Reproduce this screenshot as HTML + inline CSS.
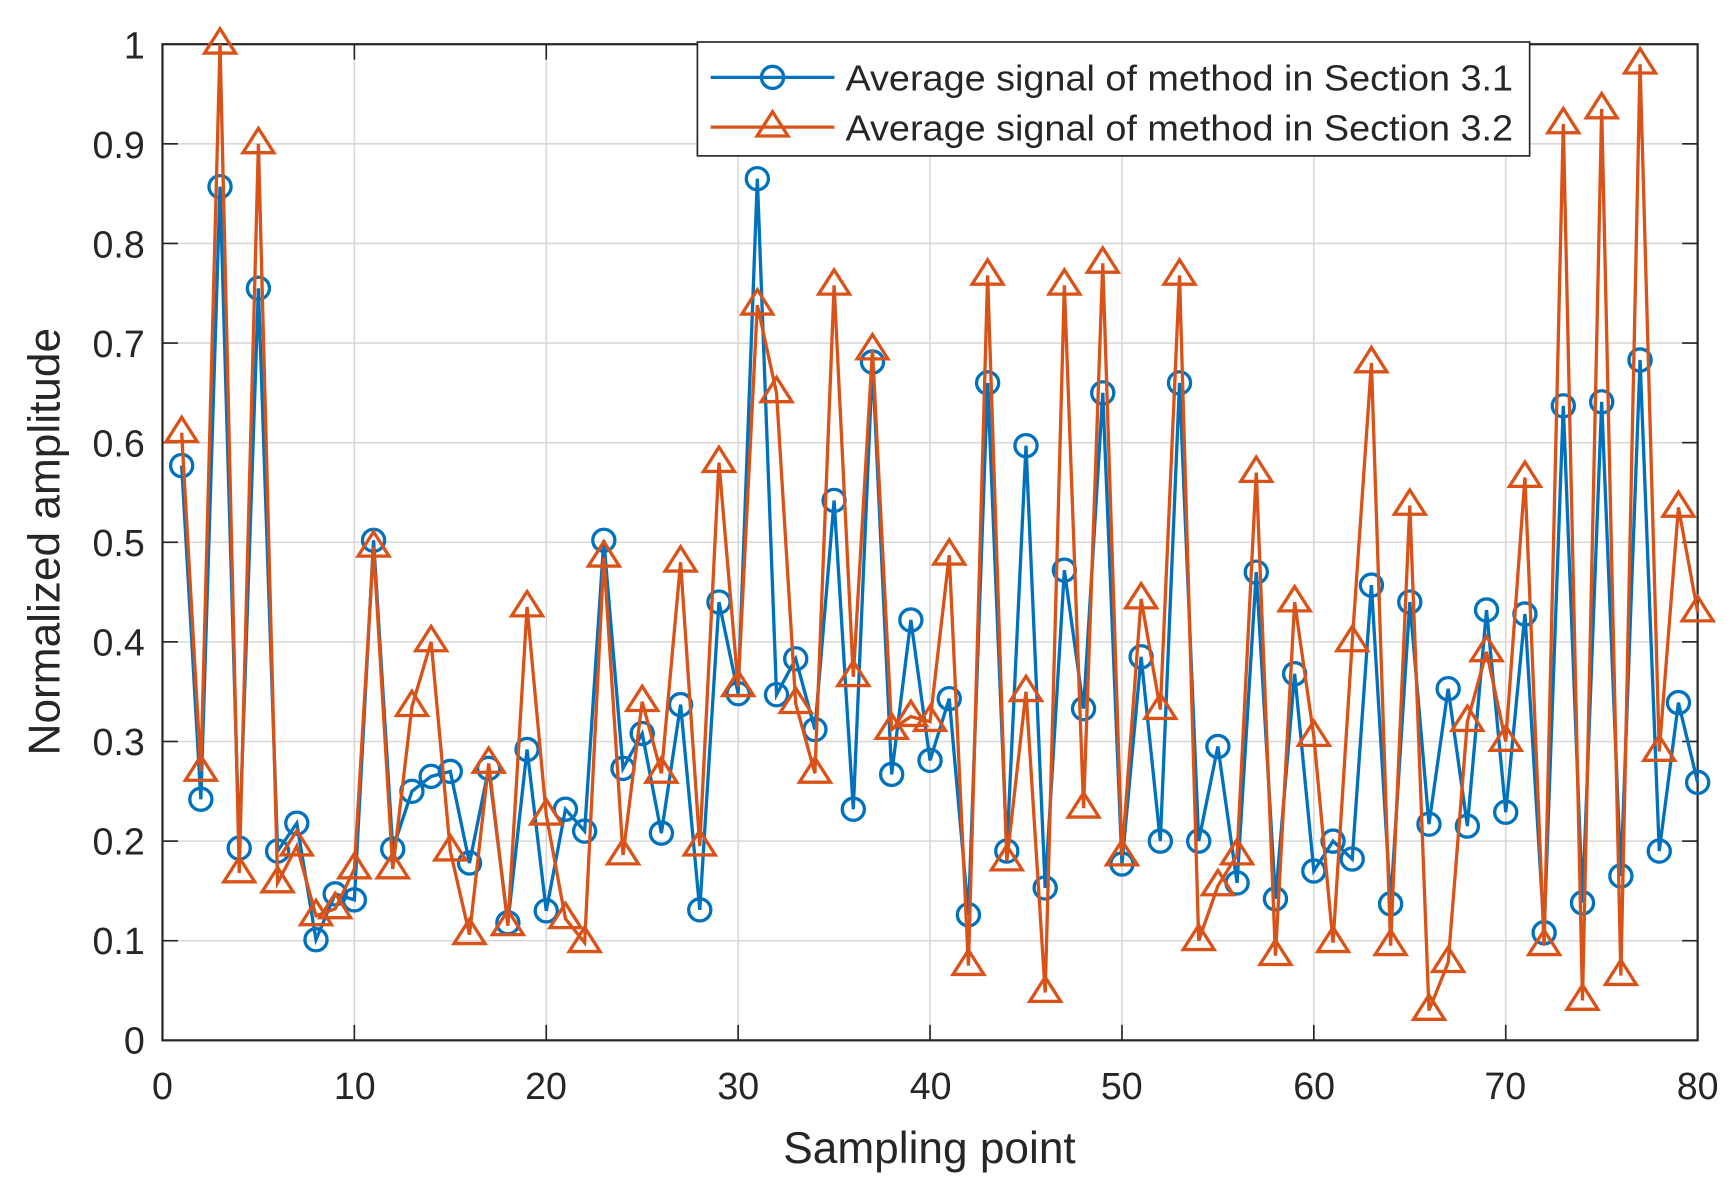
<!DOCTYPE html>
<html><head><meta charset="utf-8"><style>
html,body{margin:0;padding:0;background:#fff;}
svg{display:block;}
text{font-family:"Liberation Sans",sans-serif;fill:#262626;}
</style></head><body>
<svg id="s" width="1733" height="1194" viewBox="0 0 1568 1080" preserveAspectRatio="none" xmlns="http://www.w3.org/2000/svg">
<rect x="0" y="0" width="1568" height="1080" fill="#fff"/>
<g id="grid" stroke="#d8d8d8" stroke-width="1.4"></g>
<g id="ticks" stroke="#262626" stroke-width="1.5"></g>
<rect x="147" y="40" width="1389" height="901" fill="none" stroke="#262626" stroke-width="2"/>
<g id="series"></g>
<g font-size="34" text-anchor="end">
<text x="131" y="953">0</text><text x="131" y="863">0.1</text><text x="131" y="773">0.2</text><text x="131" y="683">0.3</text><text x="131" y="593">0.4</text><text x="131" y="503">0.5</text><text x="131" y="413">0.6</text><text x="131" y="323">0.7</text><text x="131" y="233">0.8</text><text x="131" y="143">0.9</text><text x="131" y="53">1</text>
</g>
<g font-size="34" text-anchor="middle">
<text x="147" y="994">0</text><text x="321" y="994">10</text><text x="494" y="994">20</text><text x="668" y="994">30</text><text x="842" y="994">40</text><text x="1015" y="994">50</text><text x="1189" y="994">60</text><text x="1362" y="994">70</text><text x="1536" y="994">80</text>
</g>
<text x="841" y="1052" font-size="40" text-anchor="middle">Sampling point</text>
<text x="0" y="0" font-size="40" text-anchor="middle" transform="translate(54,490) rotate(-90)">Normalized amplitude</text>
<rect x="631" y="38" width="753" height="103" fill="#fff" stroke="#262626" stroke-width="1.5"/>
<line x1="643" y1="70" x2="755" y2="70" stroke="#0072BD" stroke-width="3"/>
<circle cx="699" cy="70" r="10" fill="none" stroke="#0072BD" stroke-width="3"/>
<line x1="643" y1="115" x2="755" y2="115" stroke="#D95319" stroke-width="3"/>
<polygon points="699,101 685,123 713,123" fill="none" stroke="#D95319" stroke-width="3"/>
<text x="765" y="82" font-size="33" textLength="604" lengthAdjust="spacingAndGlyphs">Average signal of method in Section 3.1</text>
<text x="765" y="127" font-size="33" textLength="604" lengthAdjust="spacingAndGlyphs">Average signal of method in Section 3.2</text>
</svg>
<script>
var B=[.577,.242,.857,.193,.755,.19,.218,.101,.147,.141,.502,.192,.25,.265,.27,.178,.273,.118,.292,.13,.232,.21,.502,.273,.308,.208,.337,.131,.44,.348,.865,.347,.383,.312,.542,.232,.681,.267,.422,.281,.343,.126,.66,.19,.597,.153,.472,.333,.65,.177,.385,.2,.66,.2,.295,.158,.47,.142,.368,.17,.2,.182,.457,.137,.44,.217,.353,.215,.432,.229,.428,.108,.637,.138,.641,.165,.683,.19,.339,.259];
var O=[.61,.27,1.0,.168,.9,.158,.195,.125,.132,.172,.495,.172,.335,.4,.19,.106,.278,.115,.435,.226,.122,.098,.485,.186,.34,.268,.48,.195,.58,.355,.738,.65,.338,.268,.758,.365,.693,.312,.325,.32,.487,.075,.768,.18,.35,.048,.758,.233,.78,.185,.443,.332,.768,.1,.155,.186,.57,.085,.44,.305,.098,.4,.68,.095,.537,.03,.078,.32,.39,.3,.565,.095,.92,.04,.935,.065,.98,.29,.535,.43];
function X(i){return 147+i*1389/80;}function Y(v){return 941-v*901;}
var g='',t='',s='';
for(var k=1;k<8;k++){var x=X(k*10);g+='<line x1="'+x+'" y1="40" x2="'+x+'" y2="941"/>';t+='<line x1="'+x+'" y1="941" x2="'+x+'" y2="927"/><line x1="'+x+'" y1="40" x2="'+x+'" y2="54"/>';}
for(var k=1;k<10;k++){var y=Y(k/10);g+='<line x1="147" y1="'+y+'" x2="1536" y2="'+y+'"/>';t+='<line x1="147" y1="'+y+'" x2="161" y2="'+y+'"/><line x1="1522" y1="'+y+'" x2="1536" y2="'+y+'"/>';}
document.getElementById('grid').innerHTML=g;document.getElementById('ticks').innerHTML=t;
var pb='',po='';
for(var i=0;i<80;i++){pb+=X(i+1)+','+Y(B[i])+' ';po+=X(i+1)+','+Y(O[i])+' ';}
s+='<polyline points="'+pb+'" fill="none" stroke="#0072BD" stroke-width="3"/>';
for(var i=0;i<80;i++)s+='<circle cx="'+X(i+1)+'" cy="'+Y(B[i])+'" r="10" fill="none" stroke="#0072BD" stroke-width="3"/>';
s+='<polyline points="'+po+'" fill="none" stroke="#D95319" stroke-width="3"/>';
for(var i=0;i<80;i++){var x=X(i+1),y=Y(O[i]);s+='<polygon points="'+x+','+(y-14)+' '+(x-14)+','+(y+8)+' '+(x+14)+','+(y+8)+'" fill="none" stroke="#D95319" stroke-width="3"/>';}
document.getElementById('series').innerHTML=s;
</script>
</body></html>
